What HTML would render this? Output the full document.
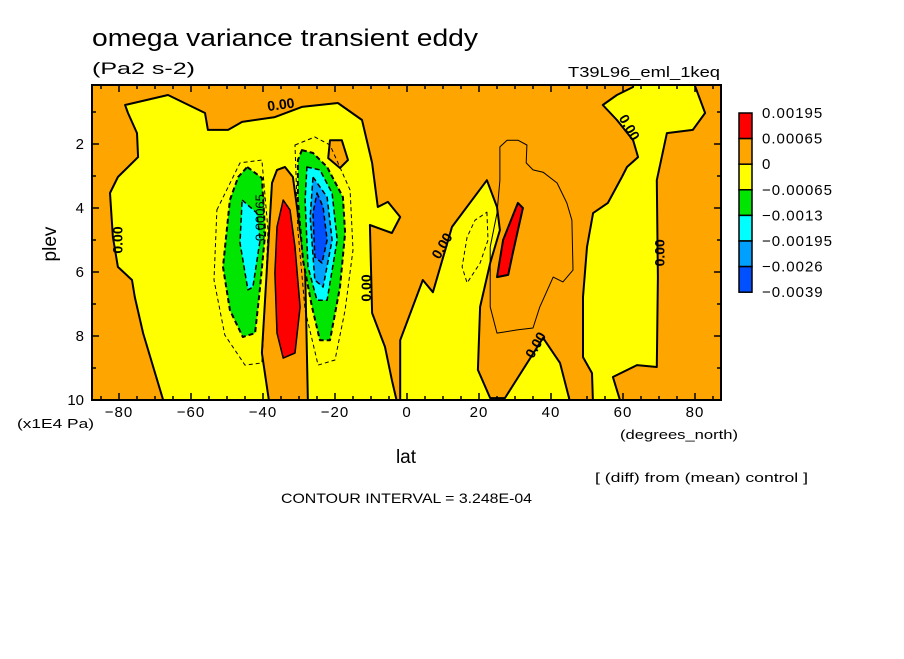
<!DOCTYPE html>
<html><head><meta charset="utf-8"><style>
body{margin:0;background:#fff;}
svg text{font-family:"Liberation Sans",sans-serif;}
</style></head><body>
<svg id="chart" width="904" height="654" viewBox="0 0 904 654" xmlns="http://www.w3.org/2000/svg">
<rect width="904" height="654" fill="#fff"/>
<text x="92" y="46" font-size="24" textLength="386" lengthAdjust="spacingAndGlyphs">omega variance transient eddy</text>
<text x="92" y="74" font-size="17" textLength="103" lengthAdjust="spacingAndGlyphs">(Pa2 s-2)</text>
<text x="568" y="77" font-size="15" textLength="152" lengthAdjust="spacingAndGlyphs">T39L96_eml_1keq</text>
<defs><clipPath id="pc"><rect x="92" y="85" width="629" height="315"/></clipPath></defs>
<g id="plot" clip-path="url(#pc)"></g>
<g id="axes"></g>
<g id="legend"></g>
<text x="56" y="244" font-size="19" transform="rotate(-90 56 244)" text-anchor="middle">plev</text>
<text x="17" y="428" font-size="13" textLength="77" lengthAdjust="spacingAndGlyphs">(x1E4 Pa)</text>
<text x="406" y="463" font-size="19" text-anchor="middle">lat</text>
<text x="620" y="439" font-size="13" textLength="118" lengthAdjust="spacingAndGlyphs">(degrees_north)</text>
<text x="595" y="482" font-size="13" textLength="213" lengthAdjust="spacingAndGlyphs">[ (diff) from (mean) control ]</text>
<text x="281" y="503" font-size="14" textLength="251" lengthAdjust="spacingAndGlyphs">CONTOUR INTERVAL = 3.248E-04</text>
<script>
const xTicks=[-80,-60,-40,-20,0,20,40,60,80];
const yTicks=[2,4,6,8,10];
const legendLabels=["0.00195","0.00065","0","\u22120.00065","\u22120.0013","\u22120.00195","\u22120.0026","\u22120.0039"];
const legendColors=["#ff0000","#ffa500","#ffff00","#00e600","#00ffff","#00a0ff","#0050ff"];
const leftYellow=[[-78.3,0.78],[-66.4,0.47],[-56.1,1.03],[-55.3,1.56],[-49.7,1.56],[-45.8,1.31],[-36.7,1.16],[-29.2,0.84],[-19.2,0.72],[-12.5,1.25],[-9.7,2.59],[-8.1,3.97],[-5.3,3.81],[-1.9,4.28],[-4.2,4.78],[-10.3,4.53],[-9.7,7.28],[-6.1,8.34],[-4.2,9.38],[-2.5,10.2],[-67.2,10.2],[-69.4,9.38],[-73.3,7.91],[-75.6,6.78],[-76.4,6.25],[-80.3,5.84],[-81.7,4.91],[-82.5,3.53],[-80.3,3.03],[-74.7,2.41],[-75,1.66],[-77.5,1.03]];
const midYellow=[[-1.9,10.2],[-1.9,8.13],[4.4,6.25],[7.2,6.63],[12.5,4.59],[22.2,3.13],[25,3.97],[25.8,4.69],[23.1,5.72],[20.3,7.09],[19.7,9.06],[23.1,9.94],[27.2,9.94],[37.8,8.06],[42.5,8.84],[45.6,10.2]];
const rightYellow=[[51.7,10.2],[51.4,9.16],[48.9,8.66],[48.9,6.78],[50,5.22],[51.7,4.16],[55.8,3.84],[59.7,3.03],[61.1,2.72],[64.2,2.41],[62.8,1.88],[58.3,1.25],[54.4,0.78],[58.3,0.47],[62.8,0.22],[62.8,0.0],[79.4,0.0],[82.8,1.03],[79.4,1.56],[72.2,1.66],[69.4,3.13],[69.7,6.16],[69.4,8.97],[63.9,8.91],[57.2,9.28],[59.7,10.2]];
const orangeColumn=[[-38.1,10.2],[-40.3,8.53],[-38.9,5.84],[-37.5,3.22],[-36.1,2.81],[-33.9,2.72],[-31.7,3.03],[-28.3,5.84],[-27.8,8.53],[-27.5,10.2]];
const orangeBlob=[[-21.4,1.88],[-18.1,1.88],[-16.4,2.5],[-18.6,2.75],[-21.9,2.44]];
const thinContour=[[25.8,2.09],[27.8,1.88],[30.8,1.88],[33.3,2.03],[33.1,2.59],[35,2.81],[37.8,2.88],[41.7,3.22],[44.4,3.84],[45.8,4.38],[46.1,5.94],[43.3,6.31],[40.6,6.16],[36.9,7.09],[35,7.75],[30.6,7.81],[25,7.91],[23.1,7.09],[23.1,5.22],[25,4.16],[25.8,3.13]];
const redRight=[[25,6.16],[26.7,5],[30.8,3.84],[32.2,4],[29.4,5.41],[28.1,6.09]];
const dashRightSmall=[[22.2,4.13],[22.5,5],[20.3,5.72],[16.7,6.34],[15.3,5.84],[16.7,4.91],[18.9,4.38]];
const dashL=[[-52.8,4.06],[-46.4,2.59],[-40.3,2.5],[-38.6,4.69],[-39.4,6.88],[-40.3,8.84],[-45,8.91],[-50.6,7.97],[-53.6,6.25]];
const dashR=[[-31.1,2.03],[-25.6,1.78],[-21.4,2.03],[-15.8,3.44],[-15,5.31],[-17.2,7.19],[-20,8.75],[-24.7,8.91],[-28.3,7.19],[-30.3,4.69]];
const greenL=[[-44.4,2.72],[-40.3,3.06],[-39.4,4.78],[-40.8,6.47],[-42.2,7.91],[-45.6,8.03],[-49.2,7.19],[-51.1,5.84],[-49.2,3.75],[-46.9,3.03]];
const cyanL=[[-45.8,3.75],[-41.7,4.16],[-40.8,5],[-42.8,6.47],[-44.2,6.56],[-46.4,5.09]];
const redL=[[-34.4,3.75],[-32.5,4.06],[-31.1,5.22],[-29.7,7.09],[-31.1,8.53],[-34.4,8.69],[-36.1,7.91],[-36.7,6.03],[-36.1,4.59]];
const greenR=[[-29.2,2.19],[-26.1,2.28],[-22.2,2.72],[-17.8,3.66],[-17.2,4.78],[-18.6,6.47],[-21.4,8.13],[-24.2,8.13],[-26.4,7.09],[-28.9,5.63],[-30.3,3.75],[-30.3,2.5]];
const cyanR=[[-27.8,2.72],[-24.2,2.81],[-20.8,3.53],[-19.4,5],[-22.2,6.88],[-25,6.88],[-27.5,5.84],[-28.3,3.75]];
const blueR=[[-26.1,3.03],[-22.2,3.66],[-20.8,5],[-23.3,6.47],[-25.6,6.25],[-26.9,4.28]];
const deepR=[[-25,3.53],[-23.3,3.97],[-22.2,5],[-23.6,5.72],[-25.6,5.53],[-26.1,4.16]];
const zeroLabels=[[-35,0.8,-8],[-80,5,-90],[-11,6.5,-90],[10,5.2,-60],[36,8.3,-60],[61.5,1.5,60],[70.5,5.4,-90]];

const NS="http://www.w3.org/2000/svg";
const X0=92,X1=721,Y0=85,Y1=400;
function sx(lat){return 407+lat*3.6;}
function sy(p){return 80+p*32;}
function mk(tag,attrs,parent){const e=document.createElementNS(NS,tag);for(const k in attrs)e.setAttribute(k,attrs[k]);parent.appendChild(e);return e;}
const plot=document.getElementById('plot');
const axes=document.getElementById('axes');
const legend=document.getElementById('legend');
const bg=mk('rect',{x:X0,y:Y0,width:X1-X0,height:Y1-Y0,fill:'#ffa500'},plot);


function poly(pts,fill,stroke,sw,dash,name){
  const d=pts.map(p=>sx(p[0]).toFixed(1)+','+sy(p[1]).toFixed(1)).join(' ');
  const e=mk('polygon',{points:d,fill:fill,stroke:stroke,'stroke-width':sw,'stroke-linejoin':'round'},plot);
  if(dash)e.setAttribute('stroke-dasharray',dash);
  
  
  return e;
}
poly(leftYellow,'#ffff00','#000',2,null,'region-yellow-south');
poly(midYellow,'#ffff00','#000',2,null,'region-yellow-equator');
poly(rightYellow,'#ffff00','#000',2,null,'region-yellow-north');
poly(orangeColumn,'#ffa500','#000',2,null,'region-orange-column');
poly(orangeBlob,'#ffa500','#000',2,null,'region-orange-blob');
poly(thinContour,'none','#000',1,null,'contour-positive-north');
poly(redRight,'#ff0000','#000',2,null,'region-red-north');
poly(dashRightSmall,'none','#000',1,'4,3','contour-negative-north');
poly(dashL,'none','#000',1,'4,3','contour-dashed-south-left');
poly(dashR,'none','#000',1,'4,3','contour-dashed-south-right');
poly(greenL,'#00e600','#000',2,'5,3','region-green-left');
poly(cyanL,'#00ffff','#000',1.5,'5,3','region-cyan-left');
poly(redL,'#ff0000','#000',1.5,null,'region-red-south');
poly(greenR,'#00e600','#000',2,'5,3','region-green-right');
poly(cyanR,'#00ffff','#000',1.5,'5,3','region-cyan-right');
poly(blueR,'#00a0ff','#000',1.5,'5,3','region-blue-right');
poly(deepR,'#0050ff','#000',1.5,'5,3','region-deepblue-right');
zeroLabels.forEach(l=>{
  const t=mk('text',{x:sx(l[0]),y:sy(l[1]),'font-size':14,'font-weight':'bold','text-anchor':'middle','dominant-baseline':'middle',transform:'rotate('+l[2]+' '+sx(l[0])+' '+sy(l[1])+')'},plot);
  t.textContent='0.00';
  
  
});
const lb=mk('text',{x:sx(-40.5),y:sy(4.3),'font-size':13,'text-anchor':'middle','dominant-baseline':'middle',transform:'rotate(-90 '+sx(-40.5)+' '+sy(4.3)+')'},plot);
lb.textContent='0.00065';


const fr=mk('rect',{x:X0,y:Y0,width:X1-X0,height:Y1-Y0,fill:'none',stroke:'#000','stroke-width':2},axes);


for(let v=-85;v<=85;v+=5){
  const len=(v%20===0)?7:4;
  mk('line',{x1:sx(v),x2:sx(v),y1:Y1,y2:Y1-len,stroke:'#000','stroke-width':1.5},axes);
  mk('line',{x1:sx(v),x2:sx(v),y1:Y0,y2:Y0+len,stroke:'#000','stroke-width':1.5},axes);
}
for(let p=1;p<=10;p+=1){
  const len=(p%2===0)?7:4;
  mk('line',{x1:X0,x2:X0+len,y1:sy(p),y2:sy(p),stroke:'#000','stroke-width':1.5},axes);
  mk('line',{x1:X1,x2:X1-len,y1:sy(p),y2:sy(p),stroke:'#000','stroke-width':1.5},axes);
}
xTicks.forEach(v=>{
  const t=mk('text',{x:sx(v),y:417,'font-size':15,'text-anchor':'middle','letter-spacing':'1'},axes);
  t.textContent=v<0?'\u2212'+Math.abs(v):String(v);
  
  
});
yTicks.forEach(v=>{
  const t=mk('text',{x:84,y:sy(v)+5,'font-size':15,'text-anchor':'end'},axes);
  t.textContent=String(v);
  
  
});
const LY0=113,LH=25.6;
legendColors.forEach((c,i)=>{
  const r=mk('rect',{x:739,y:LY0+i*LH,width:13,height:LH,fill:c,stroke:'#000','stroke-width':1.5},legend);
  
  
});
legendLabels.forEach((s,i)=>{
  const t=mk('text',{x:762,y:LY0+i*LH+5,'font-size':15,'letter-spacing':'1'},legend);
  t.textContent=s;
  
  
});
</script>
</svg>
</body></html>
